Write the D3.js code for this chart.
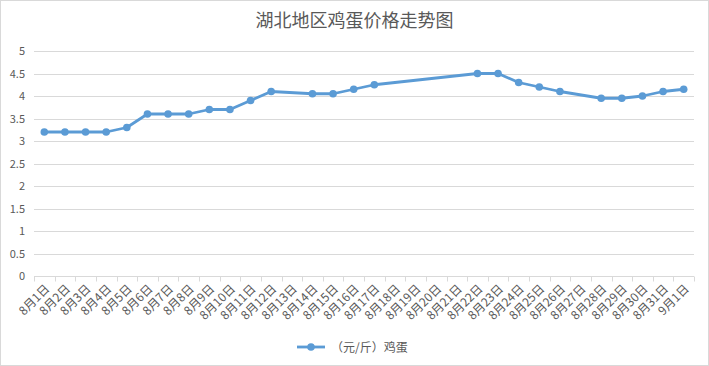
<!DOCTYPE html>
<html>
<head>
<meta charset="utf-8">
<script src="https://cdn.jsdelivr.net/npm/d3@7"></script>
<style>
  body { margin: 0; background: #fff; }
  svg { display: block; font-family: "Noto Sans CJK SC", "Microsoft YaHei", sans-serif; }
</style>
</head>
<body>
<svg id="chart" width="709" height="366"></svg>
<script>
// categories and prices (null = no quote that day)
var days = ["8月1日","8月2日","8月3日","8月4日","8月5日","8月6日","8月7日","8月8日","8月9日","8月10日",
  "8月11日","8月12日","8月13日","8月14日","8月15日","8月16日","8月17日","8月18日","8月19日","8月20日",
  "8月21日","8月22日","8月23日","8月24日","8月25日","8月26日","8月27日","8月28日","8月29日","8月30日",
  "8月31日","9月1日"];
var prices = [3.2,3.2,3.2,3.2,3.3,3.6,3.6,3.6,3.7,3.7,
  3.9,4.1,null,4.05,4.05,4.15,4.25,null,null,null,
  null,4.5,4.5,4.3,4.2,4.1,null,3.95,3.95,4.0,
  4.1,4.15];
var yTicks = [0,0.5,1,1.5,2,2.5,3,3.5,4,4.5,5];
var seriesName = "（元/斤）鸡蛋";
var title = "湖北地区鸡蛋价格走势图";

var svg = d3.select("#chart"),
    width = +svg.attr("width"),
    height = +svg.attr("height");

var blue = "#5b9bd5", grey = "#595959";

// outer frame
svg.append("rect")
  .attr("x", 0.5).attr("y", 0.5)
  .attr("width", width - 1).attr("height", height - 1)
  .attr("fill", "#fff").attr("stroke", "#d9d9d9");

// plot area
var plotL = 34, plotR = 694, plotT = 51, plotB = 276;

var x = d3.scaleBand().domain(days).range([plotL, plotR]);
var y = d3.scaleLinear().domain([0, 5]).range([plotB, plotT]);

// title
svg.append("text")
  .attr("x", width / 2).attr("y", 27)
  .attr("text-anchor", "middle")
  .attr("font-size", 18).attr("fill", grey)
  .text(title);

// gridlines
svg.append("g").selectAll("line")
  .data(yTicks.filter(function(d) { return d > 0; }))
  .enter().append("line")
  .attr("x1", plotL).attr("x2", plotR)
  .attr("y1", function(d) { return Math.round(y(d)) + 0.5; })
  .attr("y2", function(d) { return Math.round(y(d)) + 0.5; })
  .attr("stroke", "#d9d9d9");

// y labels
svg.append("g").selectAll("text")
  .data(yTicks)
  .enter().append("text")
  .attr("x", 25).attr("y", function(d) { return y(d) + 4; })
  .attr("text-anchor", "end")
  .attr("font-size", 11).attr("fill", grey)
  .text(function(d) { return d; });

// x axis
var xAxis = svg.append("g").attr("transform", "translate(0," + (Math.round(plotB) + 0.5) + ")");
xAxis.append("line").attr("x1", plotL).attr("x2", plotR).attr("stroke", "#d9d9d9");
xAxis.selectAll(".tk")
  .data(days.concat([null]))
  .enter().append("line")
  .attr("class", "tk")
  .attr("x1", function(d, i) { return Math.round(plotL + i * x.bandwidth()) + 0.5; })
  .attr("x2", function(d, i) { return Math.round(plotL + i * x.bandwidth()) + 0.5; })
  .attr("y1", 0).attr("y2", 5)
  .attr("stroke", "#d9d9d9");

xAxis.selectAll("text")
  .data(days)
  .enter().append("text")
  .attr("transform", function(d) {
    return "translate(" + (x(d) + x.bandwidth() / 2 + 6) + ",13) rotate(-45)";
  })
  .attr("text-anchor", "end")
  .attr("font-size", 12).attr("fill", grey)
  .text(function(d) { return d; });

// series
var pts = days.map(function(d, i) { return { day: d, v: prices[i] }; })
  .filter(function(d) { return d.v != null; });

var line = d3.line()
  .x(function(d) { return x(d.day) + x.bandwidth() / 2; })
  .y(function(d) { return y(d.v); });

svg.append("path")
  .datum(pts)
  .attr("d", line)
  .attr("fill", "none")
  .attr("stroke", blue)
  .attr("stroke-width", 2.8)
  .attr("stroke-linejoin", "round");

svg.append("g").selectAll("circle")
  .data(pts)
  .enter().append("circle")
  .attr("cx", function(d) { return x(d.day) + x.bandwidth() / 2; })
  .attr("cy", function(d) { return y(d.v); })
  .attr("r", 3.8)
  .attr("fill", blue);

// legend
var lg = svg.append("g").attr("transform", "translate(297,347)");
lg.append("line").attr("x1", 0).attr("x2", 28).attr("stroke", blue).attr("stroke-width", 2.8);
lg.append("circle").attr("cx", 14).attr("r", 3.8).attr("fill", blue);
lg.append("text")
  .attr("x", 34).attr("y", 4.5)
  .attr("font-size", 12).attr("fill", grey)
  .text(seriesName);
</script>
</body>
</html>
